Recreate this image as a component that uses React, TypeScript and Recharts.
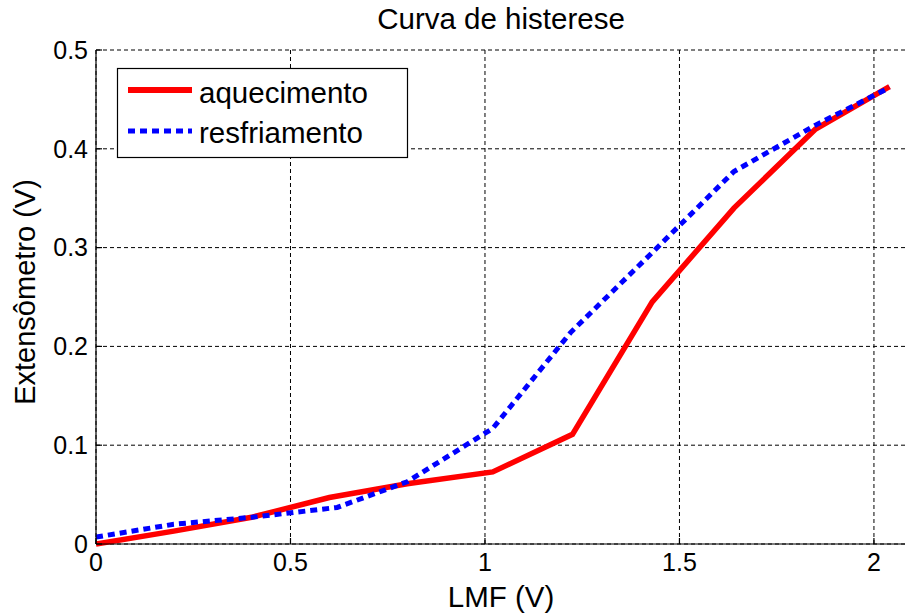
import React from 'react';
import { LineChart, Line, XAxis, YAxis, CartesianGrid } from 'recharts';

const heatingX = [0, 0.2, 0.4, 0.6, 0.8, 1.02, 1.225, 1.43, 1.64, 1.85, 2.04];
const heatingY = [0, 0.013, 0.027, 0.047, 0.061, 0.073, 0.111, 0.245, 0.34, 0.42, 0.463];
const coolingX = [0, 0.2, 0.4, 0.62, 0.8, 1.02, 1.22, 1.43, 1.64, 1.85, 2.04];
const coolingY = [0.007, 0.02, 0.027, 0.037, 0.063, 0.117, 0.214, 0.295, 0.377, 0.424, 0.462];
const xTicks = [0, 0.5, 1, 1.5, 2];
const yTicks = [0, 0.1, 0.2, 0.3, 0.4, 0.5];

const heating = heatingX.map((x, i) => ({ x, y: heatingY[i] }));
const cooling = coolingX.map((x, i) => ({ x, y: coolingY[i] }));

const FONT = '"Liberation Sans", Arial, sans-serif';
const tickStyle = { fill: '#000', fontSize: 25, fontFamily: FONT };

export default function App() {
  return (
    <div style={{ position: 'fixed', left: 0, top: 0, width: 905, height: 616, overflow: 'hidden', background: '#fff' }}>
      <LineChart width={907} height={616} margin={{ top: 50, right: 0, bottom: 0, left: 0 }}>
        <CartesianGrid stroke="#000" strokeDasharray="4 3" strokeWidth={1} />
        <XAxis
          type="number"
          dataKey="x"
          domain={[0, 2.085]}
          ticks={xTicks}
          allowDataOverflow
          height={72}
          stroke="#000"
          strokeWidth={1.2}
          tick={tickStyle}
          tickSize={-6}
          tickMargin={15}
        />
        <XAxis
          xAxisId="top"
          orientation="top"
          type="number"
          dataKey="x"
          domain={[0, 2.085]}
          ticks={xTicks}
          allowDataOverflow
          height={0}
          stroke="#000"
          strokeWidth={1.2}
          tickSize={-6}
          tickFormatter={() => ''}
        />
        <YAxis
          type="number"
          domain={[0, 0.5]}
          ticks={yTicks}
          width={96}
          stroke="#000"
          strokeWidth={1.2}
          tick={tickStyle}
          tickSize={-6}
          tickMargin={14}
        />
        <Line
          data={heating}
          dataKey="y"
          type="linear"
          stroke="#ff0000"
          strokeWidth={5.5}
          dot={false}
          isAnimationActive={false}
        />
        <Line
          data={cooling}
          dataKey="y"
          type="linear"
          stroke="#0000ff"
          strokeWidth={5}
          strokeDasharray="7 5"
          dot={false}
          isAnimationActive={false}
        />
      </LineChart>
      <svg
        width={905}
        height={616}
        style={{ position: 'absolute', left: 0, top: 0, pointerEvents: 'none' }}
        fontFamily={FONT}
      >
        <text x={501} y={29} textAnchor="middle" fontSize={29.5} fill="#000">Curva de histerese</text>
        <text x={501} y={607} textAnchor="middle" fontSize={29.5} fill="#000">LMF (V)</text>
        <text
          x={0}
          y={0}
          transform="translate(35,292) rotate(-90)"
          textAnchor="middle"
          fontSize={29}
          fill="#000"
        >
          Extensômetro (V)
        </text>
        <rect x={117.5} y={68.5} width={290} height={89} fill="#fff" stroke="#000" strokeWidth={1.2} />
        <line x1={128} y1={90} x2={192} y2={90} stroke="#ff0000" strokeWidth={6} />
        <text x={199} y={103} fontSize={29.5} fill="#000">aquecimento</text>
        <line x1={128} y1={131} x2={192} y2={131} stroke="#0000ff" strokeWidth={5} strokeDasharray="7 5" />
        <text x={199} y={143} fontSize={29.5} fill="#000">resfriamento</text>
      </svg>
    </div>
  );
}
